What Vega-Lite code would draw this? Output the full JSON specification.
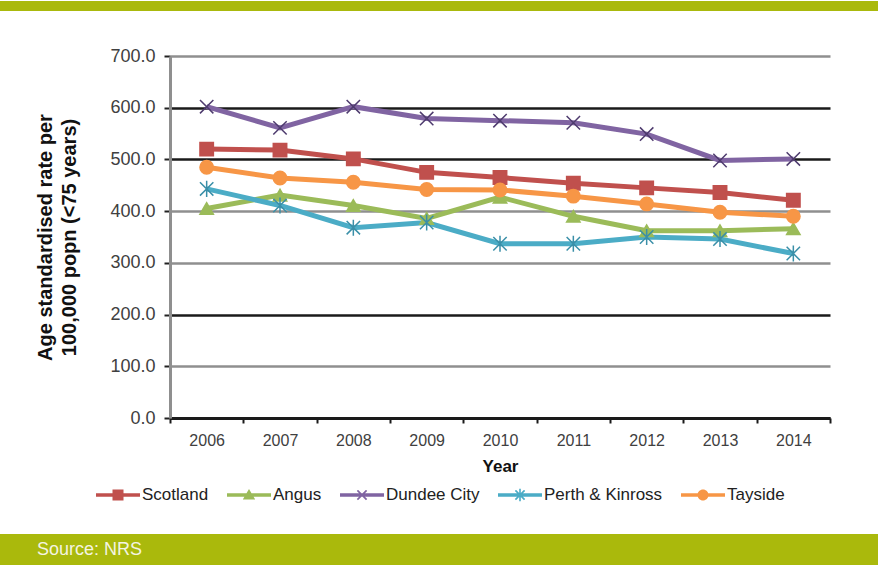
{
  "$schema": "https://vega.github.io/schema/vega-lite/v6.json",
  "padding": 0,
  "background": "white",
  "config": {"font": "Liberation Sans", "view": {"stroke": null}},
  "datasets": {
    "rates": [
      {"year": "2006", "area": "Scotland", "rate": 520},
      {"year": "2007", "area": "Scotland", "rate": 518},
      {"year": "2008", "area": "Scotland", "rate": 501},
      {"year": "2009", "area": "Scotland", "rate": 475},
      {"year": "2010", "area": "Scotland", "rate": 465},
      {"year": "2011", "area": "Scotland", "rate": 454},
      {"year": "2012", "area": "Scotland", "rate": 445},
      {"year": "2013", "area": "Scotland", "rate": 436},
      {"year": "2014", "area": "Scotland", "rate": 421},
      {"year": "2006", "area": "Angus", "rate": 405},
      {"year": "2007", "area": "Angus", "rate": 431},
      {"year": "2008", "area": "Angus", "rate": 411},
      {"year": "2009", "area": "Angus", "rate": 386},
      {"year": "2010", "area": "Angus", "rate": 427},
      {"year": "2011", "area": "Angus", "rate": 390},
      {"year": "2012", "area": "Angus", "rate": 362},
      {"year": "2013", "area": "Angus", "rate": 362},
      {"year": "2014", "area": "Angus", "rate": 366},
      {"year": "2006", "area": "Dundee City", "rate": 602},
      {"year": "2007", "area": "Dundee City", "rate": 561},
      {"year": "2008", "area": "Dundee City", "rate": 602},
      {"year": "2009", "area": "Dundee City", "rate": 579},
      {"year": "2010", "area": "Dundee City", "rate": 575},
      {"year": "2011", "area": "Dundee City", "rate": 571},
      {"year": "2012", "area": "Dundee City", "rate": 549},
      {"year": "2013", "area": "Dundee City", "rate": 498},
      {"year": "2014", "area": "Dundee City", "rate": 501},
      {"year": "2006", "area": "Perth & Kinross", "rate": 443},
      {"year": "2007", "area": "Perth & Kinross", "rate": 411},
      {"year": "2008", "area": "Perth & Kinross", "rate": 368},
      {"year": "2009", "area": "Perth & Kinross", "rate": 378},
      {"year": "2010", "area": "Perth & Kinross", "rate": 337},
      {"year": "2011", "area": "Perth & Kinross", "rate": 337},
      {"year": "2012", "area": "Perth & Kinross", "rate": 350},
      {"year": "2013", "area": "Perth & Kinross", "rate": 346},
      {"year": "2014", "area": "Perth & Kinross", "rate": 318},
      {"year": "2006", "area": "Tayside", "rate": 485},
      {"year": "2007", "area": "Tayside", "rate": 464},
      {"year": "2008", "area": "Tayside", "rate": 456},
      {"year": "2009", "area": "Tayside", "rate": 442},
      {"year": "2010", "area": "Tayside", "rate": 441},
      {"year": "2011", "area": "Tayside", "rate": 429},
      {"year": "2012", "area": "Tayside", "rate": 414},
      {"year": "2013", "area": "Tayside", "rate": 398},
      {"year": "2014", "area": "Tayside", "rate": 390}
    ]
  },
  "spacing": 36,
  "vconcat": [
    {
      "width": 878, "height": 10,
      "view": {"fill": "#aab90c", "stroke": null},
      "data": {"values": [{"label": ""}]},
      "mark": {"type": "text"},
      "encoding": {"text": {"field": "label"}}
    },
    {
      "spacing": 60,
      "vconcat": [
        {
          "spacing": 0,
          "hconcat": [
            {
              "width": 35, "height": 300,
              "data": {"values": [{"label": ""}]},
              "mark": {"type": "text"},
              "encoding": {"text": {"field": "label"}}
            },
            {
              "width": 660, "height": 362,
              "data": {"name": "rates"},
              "encoding": {
                "x": {
                  "field": "year", "type": "ordinal",
                  "scale": {"type": "band", "paddingInner": 0, "paddingOuter": 0},
                  "axis": {
                    "title": "Year", "labelAngle": 0, "tickBand": "extent", "grid": false,
                    "domainColor": "#1a1a1a", "domainWidth": 3,
                    "tickColor": "#1a1a1a", "tickWidth": 2, "tickSize": 5,
                    "labelFontSize": 16, "labelColor": "#404040", "labelPadding": 9,
                    "titleFontSize": 17, "titleFontWeight": "bold", "titleColor": "#111111", "titlePadding": 10
                  }
                },
                "y": {
                  "field": "rate", "type": "quantitative",
                  "scale": {"domain": [0, 700], "nice": false},
                  "axis": {
                    "values": [0, 100, 200, 300, 400, 500, 600, 700],
                    "format": ".1f",
                    "grid": true,
                    "gridColor": {"condition": {"test": "datum.value === 0 || datum.value === 200 || datum.value === 500 || datum.value === 600", "value": "#1a1a1a"}, "value": "#8f8f8f"},
                    "gridWidth": 2.5,
                    "domainColor": "#8f8f8f", "domainWidth": 3,
                    "tickColor": "#222222", "tickWidth": 2, "tickSize": 6,
                    "labelFontSize": 18, "labelColor": "#404040", "labelPadding": 9,
                    "title": ["Age standardised rate per", "100,000 popn (<75 years)"],
                    "titleFontSize": 20, "titleFontWeight": "bold", "titleColor": "#111111",
                    "titleLineHeight": 24, "titlePadding": 30
                  }
                },
                "color": {
                  "field": "area", "type": "nominal",
                  "scale": {
                    "domain": ["Scotland", "Angus", "Dundee City", "Perth & Kinross", "Tayside"],
                    "range": ["#c0504d", "#9bbb59", "#8064a2", "#4bacc6", "#f79646"]
                  },
                  "legend": {
                    "orient": "none", "legendX": 108, "legendY": 484,
                    "direction": "horizontal", "columns": 5, "title": null,
                    "symbolSize": 400, "labelOffset": 14, "columnPadding": 18,
                    "labelFontSize": 17, "labelColor": "#222222", "labelFont": "Liberation Sans",
                    "symbolStrokeWidth": 0,
                    "encode": {
                      "symbols": {
                        "update": {
                          "shape": {"signal": "datum.value === 'Scotland' ? 'M-2.2,-0.17H2.2V0.17H-2.2Z M-0.55,-0.55H0.55V0.55H-0.55Z' : datum.value === 'Angus' ? 'M-2.2,-0.17H2.2V0.17H-2.2Z M0,-0.6L0.62,0.45H-0.62Z' : datum.value === 'Dundee City' ? 'M-2.2,-0.17H2.2V0.17H-2.2Z M-0.52,-0.4L-0.4,-0.52L0.52,0.4L0.4,0.52Z M-0.4,0.52L-0.52,0.4L0.4,-0.52L0.52,-0.4Z' : datum.value === 'Perth & Kinross' ? 'M-2.2,-0.17H2.2V0.17H-2.2Z M-0.52,-0.4L-0.4,-0.52L0.52,0.4L0.4,0.52Z M-0.4,0.52L-0.52,0.4L0.4,-0.52L0.52,-0.4Z M-0.08,-0.62H0.08V0.62H-0.08Z' : 'M-2.2,-0.17H2.2V0.17H-2.2Z M0.55,0A0.55,0.55 0 1,1 -0.55,0A0.55,0.55 0 1,1 0.55,0Z'"},
                          "opacity": {"value": 1}
                        }
                      }
                    }
                  }
                }
              },
              "layer": [
                {"mark": {"type": "line", "strokeWidth": 5}},
                {
                  "mark": {"type": "point", "filled": true, "opacity": 1, "size": 180, "strokeWidth": 1.5},
                  "encoding": {
                    "stroke": {
                      "field": "area", "type": "nominal",
                      "scale": {
                        "domain": ["Angus", "Dundee City", "Perth & Kinross", "Scotland", "Tayside"],
                        "range": ["#9bbb59", "#4e3b6e", "#3a8fa8", "#c0504d", "#f79646"]
                      },
                      "legend": null
                    },
                    "shape": {
                      "field": "area", "type": "nominal",
                      "scale": {
                        "domain": ["Tayside", "Scotland", "Perth & Kinross", "Dundee City", "Angus"],
                        "range": ["circle", "square", "M-1,-1L1,1M-1,1L1,-1M0,-1.2V1.2", "M-1,-1L1,1M-1,1L1,-1", "triangle-up"]
                      },
                      "legend": null
                    }
                  }
                }
              ]
            }
          ]
        },
        {
          "width": 878, "height": 31,
          "view": {"fill": "#aab90c", "stroke": null},
          "data": {"values": [{"label": "Source: NRS"}]},
          "mark": {"type": "text", "align": "left", "baseline": "middle", "fontSize": 18, "color": "#f4f4e2", "font": "Liberation Sans"},
          "encoding": {
            "text": {"field": "label"},
            "x": {"datum": 0.042, "type": "quantitative", "scale": {"domain": [0, 1]}, "axis": null},
            "y": {"datum": 0.5, "type": "quantitative", "scale": {"domain": [0, 1]}, "axis": null}
          }
        }
      ]
    }
  ]
}
